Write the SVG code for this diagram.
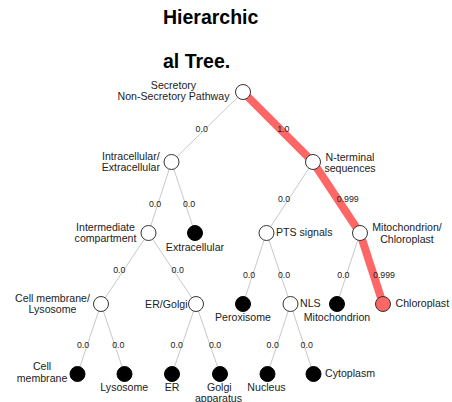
<svg xmlns="http://www.w3.org/2000/svg" width="452" height="402" viewBox="0 0 452 402">
<style>
text{font-family:"Liberation Sans",Arial,sans-serif;fill:#222}
.t{font-size:19.5px;font-weight:bold;fill:#000}
.n{font-size:10.6px}
.e{font-size:8.8px;text-anchor:middle}
.m{text-anchor:middle}
.s{text-anchor:start}
.d{text-anchor:end}
.g{stroke:#c8c8c8;stroke-width:1;fill:none}
.r{stroke:#ff6666;stroke-width:8;fill:none}
.o{fill:#fff;stroke:#333;stroke-width:1}
.f{fill:#000;stroke:#000;stroke-width:1}
.h{fill:#ff6666;stroke:#333;stroke-width:1}
</style>
<g id="title">
<text class="t" x="163" y="24">Hierarchic</text>
<text class="t" x="163" y="68">al Tree.</text>
</g>
<g id="connectors">
<line class="g" x1="243" y1="92" x2="171.5" y2="162"/>
<line class="g" x1="171.5" y1="162" x2="148.5" y2="233"/>
<line class="g" x1="171.5" y1="162" x2="195" y2="233"/>
<line class="g" x1="313" y1="162" x2="266.5" y2="233"/>
<line class="g" x1="148.5" y1="233" x2="101" y2="304"/>
<line class="g" x1="148.5" y1="233" x2="196" y2="304"/>
<line class="g" x1="266.5" y1="233" x2="243" y2="304"/>
<line class="g" x1="266.5" y1="233" x2="290.5" y2="304"/>
<line class="g" x1="360" y1="233" x2="337" y2="304"/>
<line class="g" x1="101" y1="304" x2="77.5" y2="374"/>
<line class="g" x1="101" y1="304" x2="124.5" y2="374"/>
<line class="g" x1="196" y1="304" x2="172" y2="374"/>
<line class="g" x1="196" y1="304" x2="220" y2="374"/>
<line class="g" x1="290.5" y1="304" x2="267.5" y2="374"/>
<line class="g" x1="290.5" y1="304" x2="313.5" y2="374"/>
<polyline class="r" points="243,92 313,162 360,233 383,304"/>
<text class="e" x="201.7" y="131.5">0.0</text>
<text class="e" x="283.3" y="131.5">1.0</text>
<text class="e" x="155" y="207.3">0.0</text>
<text class="e" x="189" y="207.3">0.0</text>
<text class="e" x="284" y="201.5">0.0</text>
<text class="e" x="347.7" y="201.5">0.999</text>
<text class="e" x="119.3" y="272.5">0.0</text>
<text class="e" x="177.7" y="272.5">0.0</text>
<text class="e" x="249" y="278.2">0.0</text>
<text class="e" x="284" y="278.2">0.0</text>
<text class="e" x="343.3" y="278.2">0.0</text>
<text class="e" x="384" y="278.2">0.999</text>
<text class="e" x="83" y="348.2">0.0</text>
<text class="e" x="118.3" y="348.2">0.0</text>
<text class="e" x="176.7" y="348.2">0.0</text>
<text class="e" x="215" y="348.2">0.0</text>
<text class="e" x="272.7" y="348.2">0.0</text>
<text class="e" x="306.7" y="348.2">0.0</text>
</g>
<g id="root"><circle class="o" cx="243" cy="92" r="7.5"/><text class="n m" x="173.5" y="89">Secretory</text><text class="n m" x="173.5" y="100">Non-Secretory Pathway</text></g>
<g id="intracellular"><circle class="o" cx="171.5" cy="162" r="7.5"/><text class="n m" x="130.8" y="160">Intracellular/</text><text class="n m" x="130.8" y="171">Extracellular</text></g>
<g id="nterminal"><circle class="o" cx="313" cy="162" r="7.5"/><text class="n m" x="350" y="160.5">N-terminal</text><text class="n m" x="350" y="171.5">sequences</text></g>
<g id="intermediate"><circle class="o" cx="148.5" cy="233" r="7.5"/><text class="n m" x="105.5" y="231">Intermediate</text><text class="n m" x="105.5" y="242.3">compartment</text></g>
<g id="extracellular"><circle class="f" cx="195" cy="233" r="7.5"/><text class="n m" x="195" y="250.7">Extracellular</text></g>
<g id="pts"><circle class="o" cx="266.5" cy="233" r="7.5"/><text class="n s" x="276" y="236">PTS signals</text></g>
<g id="mitochloro"><circle class="o" cx="360" cy="233" r="7.5"/><text class="n m" x="407" y="231">Mitochondrion/</text><text class="n m" x="407" y="242.5">Chloroplast</text></g>
<g id="cellmemlyso"><circle class="o" cx="101" cy="304" r="7.5"/><text class="n m" x="52.5" y="301.7">Cell membrane/</text><text class="n m" x="52.5" y="312.7">Lysosome</text></g>
<g id="ergolgi"><circle class="o" cx="196" cy="304" r="7.5"/><text class="n d" x="187.5" y="307.5">ER/Golgi</text></g>
<g id="peroxisome"><circle class="f" cx="243" cy="304" r="7.5"/><text class="n m" x="243" y="320.5">Peroxisome</text></g>
<g id="nls"><circle class="o" cx="290.5" cy="304" r="7.5"/><text class="n s" x="300" y="307.3">NLS</text></g>
<g id="mitochondrion"><circle class="f" cx="337" cy="304" r="7.5"/><text class="n m" x="337" y="320.5">Mitochondrion</text></g>
<g id="chloroplast"><circle class="h" cx="383" cy="304" r="7.5"/><text class="n s" x="395.5" y="307.3">Chloroplast</text></g>
<g id="cellmembrane"><circle class="f" cx="77.5" cy="374" r="7.5"/><text class="n m" x="42" y="370">Cell</text><text class="n m" x="42" y="381.7">membrane</text></g>
<g id="lysosome"><circle class="f" cx="124.5" cy="374" r="7.5"/><text class="n m" x="124.3" y="391">Lysosome</text></g>
<g id="er"><circle class="f" cx="172" cy="374" r="7.5"/><text class="n m" x="172" y="391">ER</text></g>
<g id="golgi"><circle class="f" cx="220" cy="374" r="7.5"/><text class="n m" x="219.3" y="391">Golgi</text><text class="n m" x="218.5" y="402">apparatus</text></g>
<g id="nucleus"><circle class="f" cx="267.5" cy="374" r="7.5"/><text class="n m" x="266.5" y="391">Nucleus</text></g>
<g id="cytoplasm"><circle class="f" cx="313.5" cy="374" r="7.5"/><text class="n s" x="325" y="377.3">Cytoplasm</text></g>
</svg>
